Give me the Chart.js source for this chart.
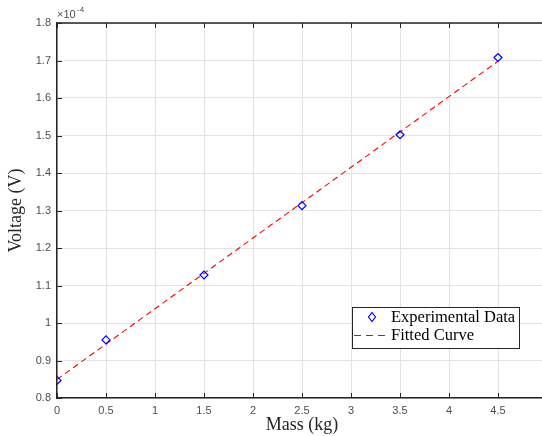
<!DOCTYPE html>
<html>
<head>
<meta charset="utf-8">
<script src="https://cdn.jsdelivr.net/npm/chart.js@4.4.0/dist/chart.umd.min.js"></script>
<style>
  html, body { margin: 0; padding: 0; background: #fff; overflow: hidden; }
  #wrap { width: 554px; height: 436px; }
</style>
</head>
<body>
<div id="wrap"><canvas id="chart" width="554" height="436"></canvas></div>
<script>
// data (voltage in units of 1e-4 V)
const massKg = [0, 0.5, 1.5, 2.5, 3.5, 4.5];
const voltage = [0.847, 0.955, 1.128, 1.313, 1.502, 1.708];
const fitMass = [0, 4.5];
const fitVoltage = [0.8495, 1.698];
const seriesNames = ['Experimental Data', 'Fitted Curve'];

const axisColor = '#262626';
const tickColor = '#4d4d4d';
const gridColor = '#e3e3e3';
const serif = '"Liberation Serif", "DejaVu Serif", serif';
const sans = '"Liberation Sans", Arial, sans-serif';

// inward ticks, box top line, exponent label and legend
const matlabLook = {
    id: 'matlabLook',
    afterDraw(chart) {
        const ctx = chart.ctx;
        const a = chart.chartArea;
        const xs = chart.scales.x, ys = chart.scales.y;
        ctx.save();
        ctx.strokeStyle = axisColor;
        ctx.lineWidth = 1;
        ctx.beginPath();
        xs.ticks.forEach(t => {
            const px = Math.round(xs.getPixelForValue(t.value)) + 0.5;
            ctx.moveTo(px, a.bottom); ctx.lineTo(px, a.bottom - 5);
            ctx.moveTo(px, a.top); ctx.lineTo(px, a.top + 5);
        });
        ys.ticks.forEach(t => {
            const py = Math.round(ys.getPixelForValue(t.value)) + 0.5;
            ctx.moveTo(a.left, py); ctx.lineTo(a.left + 5, py);
        });
        ctx.stroke();
        ctx.lineWidth = 1.5;
        ctx.beginPath();
        ctx.moveTo(a.left, a.top); ctx.lineTo(a.right, a.top);
        ctx.stroke();

        // exponent
        ctx.fillStyle = tickColor;
        ctx.font = '11px ' + sans;
        ctx.textBaseline = 'alphabetic';
        ctx.textAlign = 'left';
        ctx.fillText('\u00d710', a.left, a.top - 5);
        ctx.font = '8px ' + sans;
        ctx.fillText('-4', a.left + 20, a.top - 11);

        // legend box
        const lx = 352, ly = 307, lw = 167, lh = 41;
        ctx.fillStyle = '#fff';
        ctx.fillRect(lx, ly, lw, lh);
        ctx.strokeStyle = axisColor;
        ctx.lineWidth = 1;
        ctx.strokeRect(lx + 0.5, ly + 0.5, lw, lh);
        // diamond
        const dx = lx + 20, dy = ly + 10;
        ctx.strokeStyle = '#0000ff';
        ctx.lineWidth = 1.2;
        ctx.beginPath();
        ctx.moveTo(dx, dy - 4.5); ctx.lineTo(dx + 3.5, dy); ctx.lineTo(dx, dy + 4.5); ctx.lineTo(dx - 3.5, dy);
        ctx.closePath();
        ctx.stroke();
        // dashed line
        ctx.strokeStyle = '#ff0000';
        ctx.lineWidth = 1.2;
        ctx.setLineDash([7, 5]);
        ctx.beginPath();
        ctx.moveTo(lx + 2, ly + 28.5); ctx.lineTo(lx + 37, ly + 28.5);
        ctx.stroke();
        ctx.setLineDash([]);
        ctx.fillStyle = '#000';
        ctx.font = '16.5px ' + serif;
        ctx.textBaseline = 'middle';
        ctx.fillText(seriesNames[0], lx + 39, ly + 10.5);
        ctx.fillText(seriesNames[1], lx + 39, ly + 28.5);
        ctx.restore();
    }
};

new Chart(document.getElementById('chart'), {
    type: 'scatter',
    data: {
        datasets: [
            {
                label: seriesNames[0],
                data: massKg.map((m, i) => ({ x: m, y: voltage[i] })),
                pointStyle: 'rectRot',
                pointRadius: 4,
                pointBorderColor: '#0000ff',
                pointBackgroundColor: 'rgba(0,0,0,0)',
                pointBorderWidth: 1.2,
                order: 1
            },
            {
                label: seriesNames[1],
                data: fitMass.map((m, i) => ({ x: m, y: fitVoltage[i] })),
                showLine: true,
                borderColor: '#ff0000',
                borderWidth: 1.1,
                borderDash: [6, 4],
                pointRadius: 0,
                order: 2
            }
        ]
    },
    options: {
        responsive: false,
        animation: false,
        layout: { padding: { top: 23, right: 7, left: 0, bottom: 0 } },
        plugins: { legend: { display: false }, tooltip: { enabled: false } },
        scales: {
            x: {
                type: 'linear',
                min: 0, max: 5,
                ticks: {
                    stepSize: 0.5,
                    color: tickColor,
                    font: { family: sans, size: 11 },
                    padding: 6,
                    callback: v => v >= 5 ? '' : String(v)
                },
                grid: { color: gridColor, drawTicks: false },
                border: { color: axisColor, width: 1.5 },
                title: {
                    display: true,
                    text: 'Mass (kg)',
                    color: '#262626',
                    font: { family: serif, size: 18 },
                    padding: { top: 2, bottom: 0 }
                },
                afterFit: s => { s.height = 38; }
            },
            y: {
                min: 0.8, max: 1.8,
                ticks: {
                    stepSize: 0.1,
                    color: tickColor,
                    font: { family: sans, size: 11 },
                    padding: 6,
                    callback: v => String(+v.toFixed(1))
                },
                grid: { color: gridColor, drawTicks: false },
                border: { color: axisColor, width: 1.5 },
                title: {
                    display: true,
                    text: 'Voltage (V)',
                    color: '#262626',
                    font: { family: serif, size: 18 },
                    padding: { top: 5, bottom: 0 }
                },
                afterFit: s => { s.width = 57; }
            }
        }
    },
    plugins: [matlabLook]
});
</script>
</body>
</html>
